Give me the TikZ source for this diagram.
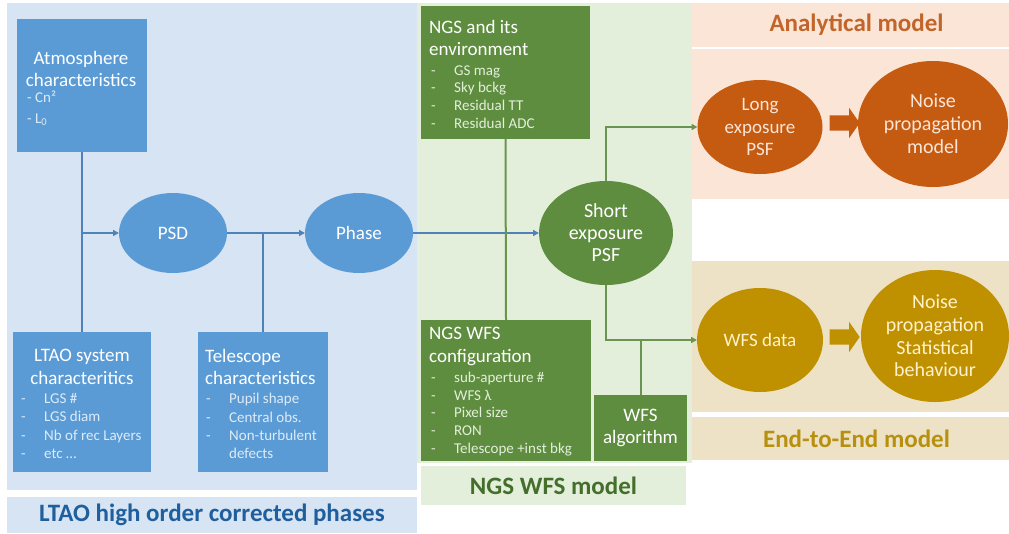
\documentclass[tikz,border=0pt]{standalone}
\usepackage{fontspec}
\setmainfont{Carlito}
\usetikzlibrary{shapes.geometric,shapes.arrows,arrows.meta}

\definecolor{bluePanel}{HTML}{D7E4F3}
\definecolor{blueBox}{HTML}{5B9BD5}
\definecolor{blueLine}{HTML}{4F82B8}
\definecolor{blueTitle}{HTML}{1F5F9E}
\definecolor{blueItem}{HTML}{DDEBF7}
\definecolor{greenPanel}{HTML}{E3EFDA}
\definecolor{greenBox}{HTML}{5F8D40}
\definecolor{greenLine}{HTML}{6A9450}
\definecolor{greenTitle}{HTML}{446E2C}
\definecolor{greenItem}{HTML}{E2EFDA}
\definecolor{orangePanel}{HTML}{FBE5D6}
\definecolor{orangeFill}{HTML}{C55A11}
\definecolor{orangeTitle}{HTML}{C2652B}
\definecolor{goldPanel}{HTML}{EDE2C6}
\definecolor{goldFill}{HTML}{BF9000}
\definecolor{goldTitle}{HTML}{B8900F}
\definecolor{goldText}{HTML}{FFF2CC}

% dash bullet with a hanging indent
\newcommand{\dashitem}[1]{\makebox[23pt][l]{-}#1}
\newcommand{\dashcont}[1]{\makebox[23pt][l]{}#1}

\begin{document}
\begin{tikzpicture}[x=1pt,y=-1pt,
  area/.style={anchor=north west, inner sep=0pt, outer sep=0pt},
  box/.style={anchor=north west, inner sep=0pt, outer sep=0pt},
  ttl/.style={text=white, inner sep=0pt, font=\fontsize{19}{22.5}\selectfont},
  itm/.style={inner sep=0pt, align=left, anchor=west},
  oval/.style={ellipse, inner sep=0pt, outer sep=0pt, align=center,
               font=\fontsize{19}{22.5}\selectfont},
  band/.style={anchor=north west, inner sep=0pt, outer sep=0pt,
               font=\fontsize{25}{28}\selectfont\bfseries},
  link/.style={line width=2pt},
  tip/.style={-{Triangle[length=6pt,width=6pt]}},
  fat/.style={single arrow, minimum height=30pt, inner xsep=0pt, inner ysep=7.5pt,
              single arrow head extend=7.5pt, single arrow tip angle=110}
]
\useasboundingbox (0,0) rectangle (1009,533);

% ---------- background areas ----------
\node[area, fill=bluePanel, minimum width=410, minimum height=487] (bluearea) at (7,3) {};
\node[band, fill=bluePanel, text=blueTitle, minimum width=410, minimum height=36] (ltaoband) at (7,497) {LTAO high order corrected phases};

\node[area, fill=greenPanel, minimum width=275, minimum height=460] (greenarea) at (417,3) {};
\node[band, fill=greenPanel, text=greenTitle, minimum width=265, minimum height=39] (ngsband) at (421,466) {NGS WFS model};

\node[band, fill=orangePanel, text=orangeTitle, minimum width=329, minimum height=44] (anaband) at (692,3) {Analytical model};
\node[area, fill=orangePanel, minimum width=329, minimum height=150] (orangearea) at (692,49) {};

\node[area, fill=goldPanel, minimum width=329, minimum height=151] (goldarea) at (692,261) {};
\node[band, fill=goldPanel, text=goldTitle, minimum width=329, minimum height=43] (e2eband) at (692,417) {End-to-End model};

% ---------- blue part ----------
\node[box, fill=blueBox, minimum width=130, minimum height=133] (atm) at (17,19) {};
\node[ttl, align=center] (atmT) at (81,69) {Atmosphere\\characteristics};
\node[itm, text=blueItem, font=\fontsize{15}{21}\selectfont] (atmI) at (27,108) {- Cn²\\- L\textsubscript{0}};

\node[box, fill=blueBox, minimum width=138, minimum height=140] (ltao) at (13,332) {};
\node[ttl, align=center] (ltaoT) at (82,367) {LTAO system\\characteritics};
\node[itm, text=blueItem, font=\fontsize{15}{18.3}\selectfont] (ltaoI) at (21,426)
  {\dashitem{LGS \#}\\\dashitem{LGS diam}\\\dashitem{Nb of rec Layers}\\\dashitem{etc \dots}};

\node[box, fill=blueBox, minimum width=130, minimum height=140] (tel) at (198,332) {};
\node[ttl, align=left, anchor=west] (telT) at (205,367) {Telescope\\characteristics};
\node[itm, text=blueItem, font=\fontsize{15}{18.3}\selectfont] (telI) at (206,426)
  {\dashitem{Pupil shape}\\\dashitem{Central obs.}\\\dashitem{Non-turbulent}\\\dashcont{defects}};

\node[oval, fill=blueBox, text=white, minimum width=108, minimum height=80] (psd) at (173,233) {PSD};
\node[oval, fill=blueBox, text=white, minimum width=108, minimum height=80] (phase) at (359,233) {Phase};

% ---------- green part ----------
\node[box, fill=greenBox, minimum width=169, minimum height=133] (ngsenv) at (421,6) {};
\node[ttl, align=left, anchor=west] (ngsenvT) at (429,38) {NGS and its\\environment};
\node[itm, text=greenItem, font=\fontsize{15}{17.7}\selectfont] (ngsenvI) at (431,97)
  {\dashitem{GS mag}\\\dashitem{Sky bckg}\\\dashitem{Residual TT}\\\dashitem{Residual ADC}};

\node[box, fill=greenBox, minimum width=170, minimum height=141] (ngswfs) at (421,320) {};
\node[ttl, align=left, anchor=west] (ngswfsT) at (429,346.5) {NGS WFS\\configuration};
\node[itm, text=greenItem, font=\fontsize{15}{17.7}\selectfont] (ngswfsI) at (431,414)
  {\dashitem{sub-aperture \#}\\\dashitem{WFS λ}\\\dashitem{Pixel size}\\\dashitem{RON}\\\dashitem{Telescope +inst bkg}};

\node[box, fill=greenBox, minimum width=93, minimum height=66] (wfsalg) at (594,395) {};
\node[ttl, align=center] (wfsalgT) at (640.5,428) {WFS\\algorithm};

\node[oval, fill=greenBox, text=white, minimum width=134, minimum height=104,
      font=\fontsize{20}{22}\selectfont] (short) at (606,233) {Short\\exposure\\PSF};

% ---------- analytical model ----------
\node[oval, fill=orangeFill, text=orangePanel, minimum width=125, minimum height=94] (long) at (760,127) {Long\\exposure\\PSF};
\node[oval, fill=orangeFill, text=orangePanel, minimum width=150, minimum height=126,
      font=\fontsize{20}{23}\selectfont] (noisemodel) at (933,124) {Noise\\propagation\\model};
\node[fat, fill=orangeFill] (fat1) at (842,123) {};

% ---------- end-to-end model ----------
\node[oval, fill=goldFill, text=goldText, minimum width=126, minimum height=104] (wfsdata) at (760,340) {WFS data};
\node[oval, fill=goldFill, text=goldText, minimum width=148, minimum height=132,
      font=\fontsize{20}{22.7}\selectfont] (noisestat) at (935,336) {Noise\\propagation\\Statistical\\behaviour};
\node[fat, fill=goldFill] (fat2) at (842,337) {};

% ---------- connectors ----------
\draw[link, blueLine] (atm.south) -- (ltao.north);
\draw[link, blueLine, tip] (atm.south |- psd.west) -- (psd.west);
\draw[link, blueLine, tip] (psd.east) -- (phase.west);
\draw[link, blueLine] (tel.north) -- (tel.north |- psd.east);
\draw[link, blueLine, tip] (phase.east) -- (short.west);

\draw[link, greenLine] (ngsenv.south) -- (ngswfs.north);
\draw[link, greenLine, tip] (short.north) |- (long.west);
\draw[link, greenLine, tip] (short.south) |- (wfsdata.west);
\draw[link, greenLine] (wfsalg.north) -- (wfsalg.north |- wfsdata.west);
\end{tikzpicture}
\end{document}
